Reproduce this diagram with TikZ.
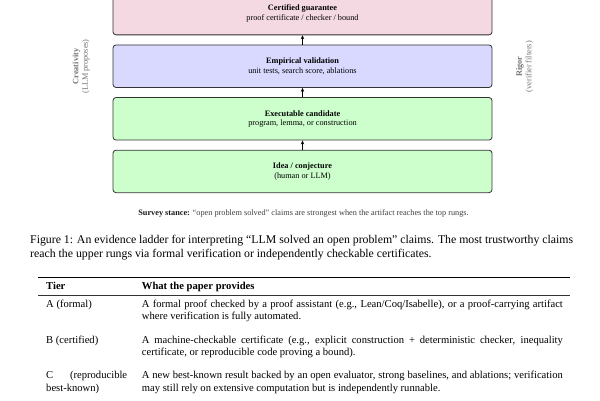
\documentclass[tikz,border=0pt]{standalone}
\usepackage{fontspec}
\setmainfont{Liberation Serif}
\usetikzlibrary{arrows.meta}
\definecolor{certfill}{rgb}{0.9625,0.85,0.8875}
\definecolor{empfill}{rgb}{0.85,0.85,1}
\definecolor{exefill}{rgb}{0.8,1,0.8}
\begin{document}
\begin{tikzpicture}[x=1pt,y=-1pt,
  rung/.style={draw=black!80, line width=0.8pt, rounded corners=3pt,
    minimum width=379pt, minimum height=42.5pt, inner sep=0pt, align=center,
    font=\fontsize{8.26}{9.4}\selectfont},
  up/.style={-{Stealth[length=4pt,width=3.4pt]}, line width=0.6pt},
  side/.style={rotate=90, align=center, text=black!55, inner sep=0pt,
    font=\fontsize{8.26}{9.4}\selectfont},
  hd/.style={anchor=base west, inner sep=0pt, font=\fontsize{10.6}{12.4}\selectfont\bfseries},
  cell/.style={anchor=base west, inner sep=0pt, align=justify,
    font=\fontsize{10.6}{12.4}\selectfont}]
\useasboundingbox (0,0) rectangle (600,400);
\fill[white] (0,0) rectangle (600,400);
\clip (0,0) rectangle (600,400);

% ladder
\node[rung, fill=certfill] (cert) at (302.5,13.6) {\textbf{Certified guarantee}\\proof certificate / checker / bound};
\node[rung, fill=empfill]  (emp)  at (302.5,66.2) {\textbf{Empirical validation}\\unit tests, search score, ablations};
\node[rung, fill=exefill]  (exe)  at (302.5,118.8) {\textbf{Executable candidate}\\program, lemma, or construction};
\node[rung, fill=exefill]  (idea) at (302.5,171.4) {\textbf{Idea / conjecture}\\(human or LLM)};
\draw[up] (idea.north) -- (exe.south);
\draw[up] (exe.north) -- (emp.south);
\draw[up] (emp.north) -- (cert.south);

\node[side] (crea) at (81.2,66.5) {\textbf{Creativity}\\(LLM proposes)};
\node[side] (rig)  at (524.7,66.7) {\textbf{Rigor}\\(verifier filters)};

\node[anchor=base, inner sep=0pt, text=black!75, font=\fontsize{8.26}{9.4}\selectfont] (stance) at (303.5,215)
  {\textcolor{black!90}{\textbf{Survey stance:}} “open problem solved” claims are strongest when the artifact reaches the top rungs.};

% caption
\node[anchor=base west, inner sep=0pt, text width=543pt, align=justify,
  font=\fontsize{11.8}{14.2}\selectfont] (cap) at (30,243.7)
  {Figure 1: An evidence ladder for interpreting “LLM solved an open problem” claims. The most trustworthy claims\linebreak reach the upper rungs via formal verification or independently checkable certificates.};

% table
\coordinate (tl) at (38.3,277.7);
\coordinate (tr) at (570,277.7);
\coordinate (ml) at (38.3,295.5);
\coordinate (mr) at (570,295.5);
\draw[line width=1.1pt] (tl) -- (tr);
\draw[line width=0.65pt, black!80] (ml) -- (mr);

\node[hd] (h1) at (46,289.5) {Tier};
\node[hd] (h2) at (141.7,289.5) {What the paper provides};

\node[cell, text width=81pt] (a1) at (46,307.4) {A (formal)};
\node[cell, text width=421pt] (a2) at (141.7,307.4)
  {A formal proof checked by a proof assistant (e.g., Lean/Coq/Isabelle), or a proof-carrying artifact\linebreak where verification is fully automated.};

\node[cell, text width=81pt] (b1) at (46,343.4) {B (certified)};
\node[cell, text width=421pt] (b2) at (141.7,343.4)
  {A machine-checkable certificate (e.g., explicit construction + deterministic checker, inequality\linebreak certificate, or reproducible code proving a bound).};

\node[cell, text width=81pt] (c1) at (46,378.9) {C (reproducible\linebreak best-known)};
\node[cell, text width=421pt] (c2) at (141.7,378.9)
  {A new best-known result backed by an open evaluator, strong baselines, and ablations; verification\linebreak may still rely on extensive computation but is independently runnable.};
\end{tikzpicture}
\end{document}
